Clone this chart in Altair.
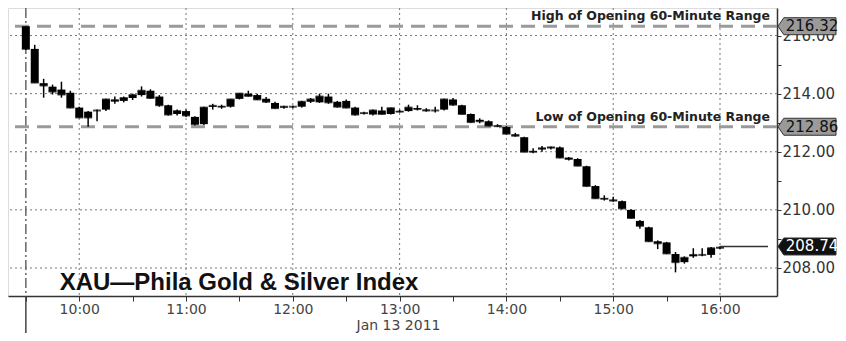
import altair as alt
import pandas as pd

# ---------------- data ----------------
opens = [216.32, 215.54, 214.36, 214.24, 214.14, 214.03, 213.52, 213.38, 213.42, 213.45,
         213.80, 213.75, 213.85, 213.95, 214.10, 213.90, 213.60, 213.30, 213.40, 213.20,
         212.95, 213.55, 213.57, 213.55, 213.82, 214.00, 213.95, 213.82, 213.68, 213.52,
         213.55, 213.55, 213.72, 213.70, 213.90, 213.72, 213.75, 213.52, 213.32, 213.28,
         213.42, 213.30, 213.40, 213.40, 213.50, 213.45, 213.42, 213.45, 213.80, 213.60,
         213.30, 213.10, 213.05, 212.90, 212.85, 212.60, 212.50, 212.02, 212.08, 212.12,
         212.15, 211.80, 211.75, 211.50, 210.82, 210.40, 210.35, 210.30, 210.00, 209.62,
         209.40, 208.92, 208.88, 208.48, 208.20, 208.40, 208.45, 208.45, 208.68]
highs = [216.32, 215.68, 214.51, 214.31, 214.41, 214.10, 213.55, 213.40, 213.45, 213.82,
         213.90, 213.90, 214.00, 214.25, 214.15, 213.95, 213.62, 213.45, 213.45, 213.22,
         213.55, 213.65, 213.62, 213.82, 214.02, 214.10, 214.00, 213.88, 213.72, 213.58,
         213.58, 213.75, 213.85, 214.00, 214.00, 213.75, 213.80, 213.55, 213.38, 213.45,
         213.55, 213.52, 213.45, 213.62, 213.60, 213.50, 213.55, 213.82, 213.85, 213.62,
         213.32, 213.15, 213.08, 212.95, 212.88, 212.65, 212.52, 212.12, 212.20, 212.18,
         212.18, 211.82, 211.78, 211.52, 210.85, 210.50, 210.45, 210.32, 210.02, 209.65,
         209.42, 208.95, 208.90, 208.55, 208.40, 208.68, 208.68, 208.72, 208.75]
lows = [215.50, 214.38, 213.86, 213.97, 213.86, 213.50, 213.18, 212.86, 213.05, 213.40,
        213.65, 213.70, 213.78, 213.90, 213.82, 213.55, 213.25, 213.25, 213.20, 212.90,
        212.92, 213.45, 213.48, 213.52, 213.80, 213.90, 213.78, 213.68, 213.48, 213.48,
        213.50, 213.52, 213.68, 213.68, 213.65, 213.52, 213.50, 213.25, 213.28, 213.25,
        213.28, 213.28, 213.35, 213.38, 213.42, 213.38, 213.35, 213.42, 213.58, 213.28,
        213.00, 212.98, 212.88, 212.85, 212.60, 212.52, 211.98, 211.95, 212.00, 212.08,
        211.78, 211.70, 211.50, 210.80, 210.38, 210.32, 210.28, 210.02, 209.70, 209.35,
        208.90, 208.65, 208.48, 207.85, 208.15, 208.35, 208.40, 208.35, 208.65]
closes = [215.54, 214.38, 214.28, 214.07, 213.97, 213.52, 213.18, 213.18, 213.42, 213.80,
          213.75, 213.85, 213.95, 214.10, 213.85, 213.60, 213.28, 213.40, 213.25, 212.95,
          213.52, 213.58, 213.55, 213.80, 214.00, 213.92, 213.80, 213.72, 213.50, 213.55,
          213.55, 213.72, 213.80, 213.90, 213.70, 213.55, 213.52, 213.28, 213.33, 213.42,
          213.30, 213.50, 213.38, 213.52, 213.47, 213.42, 213.42, 213.80, 213.62, 213.30,
          213.02, 213.05, 212.90, 212.88, 212.62, 212.55, 212.00, 212.00, 212.12, 212.15,
          211.80, 211.75, 211.52, 210.82, 210.40, 210.38, 210.32, 210.05, 209.72, 209.45,
          208.92, 208.85, 208.50, 208.20, 208.35, 208.45, 208.45, 208.68, 208.70]
times = pd.date_range("2011-01-13 09:30", periods=len(opens), freq="5min").strftime("%Y-%m-%dT%H:%M:%S").tolist()

after_times = ["2011-01-13T16:00:00", "2011-01-13T16:27:00"]
after_values = [208.74, 208.74]

range_values = [216.32, 212.86]
range_labels = ["High of Opening 60-Minute Range", "Low of Opening 60-Minute Range"]

tag_values = [216.32, 212.86, 208.74]
tag_texts = ["216.32", "212.86", "208.74"]
tag_fills = ["#9a9a9a", "#9a9a9a", "#111111"]
tag_text_colors = ["#111111", "#111111", "#ffffff"]

grid_hours = ["2011-01-13T%02d:00:00" % h for h in [10, 11, 12, 13, 14, 15, 16]]
grid_levels = [208, 210, 212, 214, 216]
y_tick_values = [207, 208, 209, 210, 211, 212, 213, 214, 215, 216]
x_tick_times = [(9, 30), (10, 0), (10, 30), (11, 0), (11, 30), (12, 0), (12, 30), (13, 0),
                (13, 30), (14, 0), (14, 30), (15, 0), (15, 30), (16, 0)]

title_text = "XAU\u2014Phila Gold & Silver Index"
date_text = "Jan 13 2011"

# ---------------- chart ----------------
W, H = 769, 288
FONT = "DejaVu Sans"

def dt(h, m, s=0):
    return alt.DateTime(year=2011, month=1, date=13, hours=h, minutes=m, seconds=s)

xscale = alt.Scale(domain=[dt(9, 22, 47), dt(16, 29, 13)])
yscale = alt.Scale(domain=[207.036, 216.947], nice=False, zero=False)

xaxis = alt.Axis(
    values=[dt(h, m) for h, m in x_tick_times],
    labelExpr="minutes(datum.value) == 0 ? timeFormat(datum.value, '%H:%M') : ''",
    grid=False, domainColor="#333", domainWidth=1.5, tickColor="#333", tickSize=5,
    labelFont=FONT, labelFontSize=14, labelColor="#444", labelPadding=1,
    labelFlush=False, labelOverlap=False,
    title=date_text, titleFont=FONT, titleFontSize=14, titleFontWeight="normal",
    titleColor="#444", titleX=390, titleY=29, titleAlign="center", titleBaseline="middle",
)
yaxis = alt.Axis(
    orient="right", values=y_tick_values,
    labelExpr="datum.value % 2 == 0 ? format(datum.value, '.2f') : ''",
    grid=False, domainColor="#333", domainWidth=1.5, tickColor="#333", tickSize=4,
    labelFont=FONT, labelFontSize=15, labelColor="#333", labelPadding=1, title="",
)

def X(field):
    return alt.X(field, scale=xscale, axis=xaxis)

def Y(field):
    return alt.Y(field, scale=yscale, axis=yaxis)

candles = pd.DataFrame({"t": times, "o": opens, "h": highs, "l": lows, "c": closes})

# grid
vgrid = alt.Chart(pd.DataFrame({"t": grid_hours})).mark_rule(
    color="#777", strokeDash=[2, 3], strokeWidth=1
).encode(x=X("t:T"))
hgrid = alt.Chart(pd.DataFrame({"v": grid_levels})).mark_rule(
    color="#777", strokeDash=[2, 3], strokeWidth=1
).encode(y=Y("v:Q"))

# session start line
open_df = pd.DataFrame({"t": ["2011-01-13T09:30:00"]})
open_line = alt.Chart(open_df).mark_rule(
    color="#666", strokeDash=[10, 3, 2, 3], strokeWidth=1.5
).encode(x=X("t:T"))
open_ext = alt.Chart(open_df).mark_rule(color="#444", strokeWidth=1.5).encode(
    x=X("t:T"), y=alt.value(H), y2=alt.value(H + 37)
)

# opening range lines
rng_df = pd.DataFrame({"v": range_values, "label": range_labels})
rng_lines = alt.Chart(rng_df).mark_rule(
    color="#9a9a9a", strokeDash=[14, 8], strokeWidth=3
).encode(y=Y("v:Q"))
rng_text = alt.Chart(rng_df).mark_text(
    align="right", baseline="middle", dy=-10, font=FONT, fontSize=12.5,
    fontWeight="bold", color="#222"
).encode(y=Y("v:Q"), x=alt.value(762), text="label:N")

# candles
base = alt.Chart(candles)
wicks = base.mark_rule(color="#000", strokeWidth=1.5).encode(
    x=X("t:T"), y=Y("l:Q"), y2="h:Q"
)
bodies = base.mark_bar(size=8, color="#000").encode(
    x=X("t:T"), y=Y("o:Q"), y2="c:Q"
)
doji = base.mark_tick(orient="horizontal", size=8, thickness=2, color="#000").encode(
    x=X("t:T"), y=Y("c:Q")
)

after = alt.Chart(pd.DataFrame({"t": after_times, "v": after_values})).mark_line(
    color="#333", strokeWidth=1.5
).encode(x=X("t:T"), y=Y("v:Q"))

# title
title_df = pd.DataFrame({"t": ["2011-01-13T09:49:00"], "v": [207.48], "label": [title_text]})
title = alt.Chart(title_df).mark_text(
    align="left", baseline="middle", font="Liberation Sans", fontSize=24,
    fontWeight="bold", color="#111"
).encode(x=X("t:T"), y=Y("v:Q"), text="label:N")

# value tags on the right
tag_df = pd.DataFrame({"v": tag_values, "txt": tag_texts, "fill": tag_fills, "tc": tag_text_colors})
tag_shape = "M -1 0 L -0.8 -0.293 L 1 -0.293 L 1 0.293 L -0.8 0.293 Z"
tags = alt.Chart(tag_df).mark_point(
    shape=tag_shape, size=3364, filled=True, stroke="#333", strokeWidth=1, opacity=1
).encode(
    y=Y("v:Q"), x=alt.value(799),
    fill=alt.Fill("fill:N", scale=None),
)
tag_txt = alt.Chart(tag_df).mark_text(
    align="center", baseline="middle", font=FONT, fontSize=15
).encode(
    y=Y("v:Q"), x=alt.value(804), text="txt:N",
    color=alt.Color("tc:N", scale=None),
)

chart = alt.layer(
    vgrid, hgrid, open_line, open_ext, rng_lines, wicks, bodies, doji, after,
    rng_text, title, tags, tag_txt
).properties(
    width=W, height=H,
    autosize=alt.AutoSizeParams(type="none"),
    padding={"left": 0, "top": 0, "right": 61, "bottom": 37},
).configure_view(strokeWidth=0).configure(background="white")

chart.save("out.html", embed_options={"renderer": "svg", "actions": False})
